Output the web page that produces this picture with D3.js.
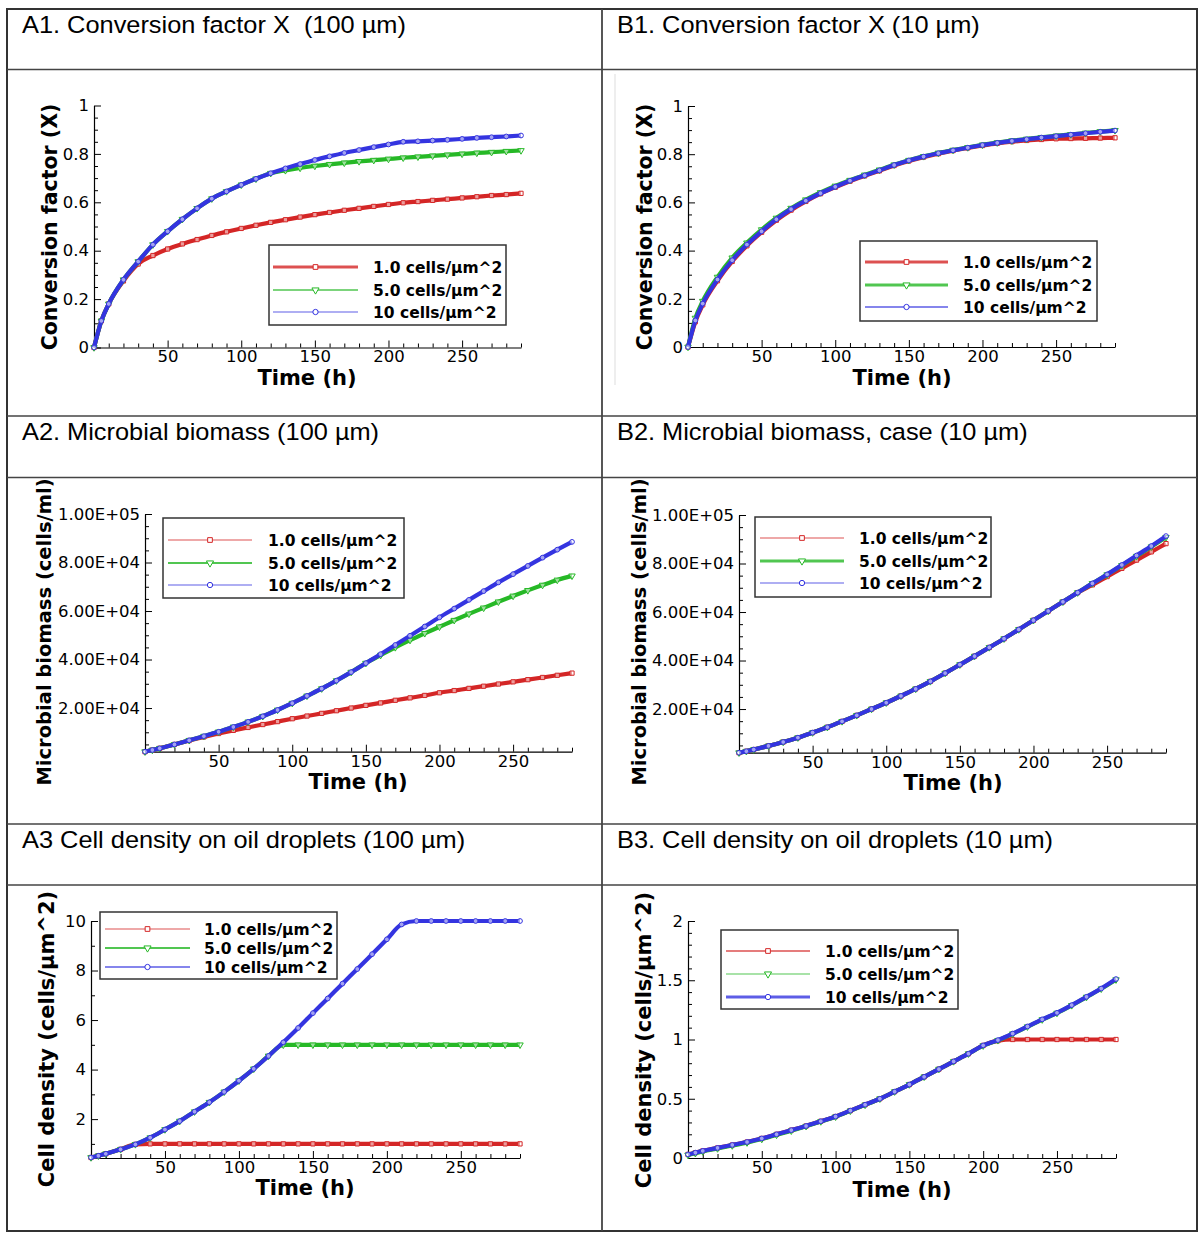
<!DOCTYPE html>
<html><head><meta charset="utf-8">
<script src="https://cdn.jsdelivr.net/npm/d3@7"></script>
<style>
body{margin:0;background:#fff}
svg{display:block}
.tick text{font-family:"DejaVu Sans",sans-serif;font-size:16.5px;fill:#000}
</style>
</head><body>
<svg id="c" width="1200" height="1235"></svg>
<script>
// ---------------- DATA ----------------
const T = [0,5,10,20,30,40,50,60,70,80,90,100,110,120,130,140,150,160,170,180,190,200,210,220,230,240,250,260,270,280,290];
const seriesNames = ["1.0 cells/µm^2", "5.0 cells/µm^2", "10 cells/µm^2"];
const titles = ["A1. Conversion factor X  (100 µm)", "B1. Conversion factor X (10 µm)",
  "A2. Microbial biomass (100 µm)", "B2. Microbial biomass, case (10 µm)",
  "A3 Cell density on oil droplets (100 µm)", "B3. Cell density on oil droplets (10 µm)"];
const yTitles = ["Conversion factor (X)", "Microbial biomass (cells/ml)", "Cell density (cells/µm^2)"];
const xTitle = "Time (h)";
const xTicks = [50,100,150,200,250];
const yTicksConv = [0,0.2,0.4,0.6,0.8,1];
const yTickLabelsConv = ["0","0.2","0.4","0.6","0.8","1"];
const yTicksBio = [20000,40000,60000,80000,100000];
const yTickLabelsBio = ["2.00E+04","4.00E+04","6.00E+04","8.00E+04","1.00E+05"];
const yTicksDensA = [2,4,6,8,10];
const yTickLabelsDensA = ["2","4","6","8","10"];
const yTicksDensB = [0,0.5,1,1.5,2];
const yTickLabelsDensB = ["0","0.5","1","1.5","2"];

const A1_red   = [0,0.11,0.18,0.275,0.345,0.38,0.407,0.428,0.446,0.463,0.478,0.492,0.505,0.517,0.528,0.539,0.549,0.558,0.567,0.575,0.583,0.591,0.598,0.603,0.608,0.613,0.618,0.623,0.628,0.632,0.637];
const A1_green = [0,0.11,0.18,0.28,0.355,0.425,0.48,0.53,0.575,0.615,0.645,0.672,0.697,0.72,0.732,0.742,0.75,0.757,0.763,0.769,0.774,0.779,0.784,0.788,0.792,0.796,0.80,0.804,0.807,0.811,0.814];
const A1_blue  = [0,0.11,0.18,0.28,0.355,0.425,0.48,0.53,0.575,0.615,0.645,0.672,0.697,0.72,0.74,0.758,0.775,0.79,0.804,0.816,0.828,0.839,0.85,0.852,0.855,0.858,0.862,0.866,0.869,0.872,0.876];

const B1_red   = [0,0.105,0.175,0.275,0.355,0.42,0.476,0.526,0.568,0.604,0.636,0.663,0.688,0.71,0.731,0.753,0.772,0.788,0.802,0.815,0.826,0.836,0.845,0.852,0.857,0.861,0.864,0.865,0.866,0.867,0.868];
const B1_green = [0,0.12,0.19,0.29,0.37,0.432,0.487,0.535,0.576,0.611,0.641,0.668,0.692,0.714,0.735,0.756,0.775,0.791,0.805,0.817,0.828,0.839,0.848,0.856,0.863,0.870,0.876,0.882,0.888,0.894,0.899];
const B1_blue  = [0,0.11,0.18,0.28,0.36,0.425,0.48,0.53,0.572,0.607,0.638,0.665,0.69,0.712,0.733,0.755,0.774,0.79,0.804,0.816,0.827,0.838,0.847,0.855,0.862,0.869,0.875,0.881,0.887,0.893,0.898];

const A2_red   = [2000,2700,3400,5000,6600,8100,9500,10800,12000,13200,14400,15600,16700,17800,18900,20000,21100,22100,23200,24200,25200,26300,27200,28100,29000,29900,30800,31700,32600,33500,34400];
const A2_green = [2000,2700,3400,5000,6700,8400,10200,12200,14300,16600,19200,22000,25000,28000,31300,34800,38500,41800,45000,48000,50800,53500,56200,58800,61300,63800,66200,68500,70700,72800,74500];
const A2_blue  = [2000,2700,3400,5000,6700,8400,10200,12200,14300,16600,19200,22000,25000,28000,31300,34800,38500,42200,46000,49800,53600,57400,61000,64600,68200,71800,75200,78600,82000,85300,88500];

const B2_red   = [2000,2600,3300,4800,6400,8200,10300,12500,14900,17400,20000,22600,25400,28300,31400,34800,38300,41800,45400,49000,52800,56600,60400,64200,68000,71200,74600,78000,81400,84800,88200];
const B2_green = [2000,2600,3300,4800,6400,8200,10300,12500,14900,17400,20000,22600,25400,28300,31400,34800,38300,41800,45400,49000,52800,56600,60400,64200,68000,71800,75400,79200,83000,86900,90800];
const B2_blue  = [2000,2600,3300,4800,6400,8200,10300,12500,14900,17400,20000,22600,25400,28300,31400,34800,38300,41800,45400,49000,52800,56600,60400,64200,68000,71800,75500,79400,83300,87200,91300];

const A3_red   = [0.45,0.52,0.6,0.78,0.98,1,1,1,1,1,1,1,1,1,1,1,1,1,1,1,1,1,1,1,1,1,1,1,1,1,1];
const A3_green = [0.45,0.52,0.6,0.78,0.98,1.25,1.58,1.92,2.3,2.68,3.1,3.55,4.03,4.55,5,5,5,5,5,5,5,5,5,5,5,5,5,5,5,5,5];
const A3_blue  = [0.45,0.52,0.6,0.78,0.98,1.25,1.58,1.92,2.3,2.68,3.1,3.55,4.03,4.55,5.1,5.68,6.28,6.87,7.47,8.06,8.66,9.26,9.86,10,10,10,10,10,10,10,10];

const B3_red   = [0.03,0.045,0.06,0.085,0.11,0.135,0.165,0.2,0.235,0.27,0.31,0.35,0.4,0.45,0.5,0.56,0.62,0.685,0.75,0.815,0.88,0.95,0.99,1,1,1,1,1,1,1,1];
const B3_green = [0.025,0.04,0.055,0.08,0.105,0.13,0.16,0.195,0.23,0.268,0.308,0.348,0.398,0.448,0.5,0.56,0.62,0.685,0.75,0.815,0.88,0.948,0.993,1.048,1.108,1.168,1.223,1.288,1.358,1.428,1.505];
const B3_blue  = [0.03,0.045,0.06,0.085,0.11,0.135,0.165,0.2,0.235,0.27,0.31,0.35,0.4,0.45,0.5,0.56,0.62,0.685,0.75,0.815,0.88,0.95,0.995,1.05,1.11,1.17,1.225,1.29,1.36,1.43,1.51];

// ---------------- STYLE / LAYOUT ----------------
const colors = ["#d42626", "#26b826", "#3434e0"];
const symbols = [d3.symbolSquare, d3.symbolTriangle, d3.symbolCircle];
const symRot = [0, 180, 0];

const panels = [
  {title:0, tx:22, ty:33, data:[A1_red,A1_green,A1_blue], xr:[94,521], ydom:[0,1], yr:[347.5,105.5],
   yt:yTicksConv, ytl:yTickLabelsConv, ymin:0.05, ylab:0, ylx:50, yly:227, ylfs:20.5, xlx:307, xly:385,
   lg:{x:269,y:245,w:237,h:80,l0:273,l1:358,tx:373,rows:[22,45,67],lw:[3,1.5,1]}},
  {title:1, tx:617, ty:33, data:[B1_red,B1_green,B1_blue], xr:[688,1115], ydom:[0,1], yr:[347,106],
   yt:yTicksConv, ytl:yTickLabelsConv, ymin:0.05, ylab:0, ylx:645, yly:227, ylfs:20.5, xlx:902, xly:385,
   lg:{x:860,y:241,w:237,h:80,l0:865,l1:948,tx:963,rows:[21,44,66],lw:[3,3,1.5]}},
  {title:2, tx:22, ty:440, data:[A2_red,A2_green,A2_blue], xr:[145,572], ydom:[2000,100000], yr:[751.7,514],
   yt:yTicksBio, ytl:yTickLabelsBio, ymin:5000, ylab:1, ylx:44, yly:632, ylfs:19.5, xlx:358, xly:789,
   lg:{x:163,y:518,w:241,h:80,l0:168,l1:252,tx:268,rows:[22,45,67],lw:[1,2,1]}},
  {title:3, tx:617, ty:440, data:[B2_red,B2_green,B2_blue], xr:[739,1166], ydom:[2000,100000], yr:[752.7,515],
   yt:yTicksBio, ytl:yTickLabelsBio, ymin:5000, ylab:1, ylx:639, yly:632, ylfs:19.5, xlx:953, xly:790,
   lg:{x:755,y:517,w:236,h:80,l0:760,l1:844,tx:859,rows:[21,44,66],lw:[1,3,1]}},
  {title:4, tx:22, ty:848, data:[A3_red,A3_green,A3_blue], xr:[91,520], ydom:[0.43,10], yr:[1158,921],
   yt:yTicksDensA, ytl:yTickLabelsDensA, ymin:1, ylab:2, ylx:46, yly:1039, ylfs:21, xlx:305, xly:1195,
   lg:{x:100,y:912,w:237,h:67,l0:105,l1:190,tx:204,rows:[17,36,55],lw:[1,2,1.5]}},
  {title:5, tx:617, ty:848, data:[B3_red,B3_green,B3_blue], xr:[688,1116], ydom:[0,2], yr:[1158,921],
   yt:yTicksDensB, ytl:yTickLabelsDensB, ymin:0.1, ylab:2, ylx:643, yly:1040, ylfs:21, xlx:902, xly:1197,
   lg:{x:721,y:930,w:237,h:79,l0:726,l1:810,tx:825,rows:[21,44,67],lw:[1.5,1,3]}}
];

// ---------------- DRAW ----------------
const svg = d3.select("#c");

// table grid
const tb = {x0:7, x1:1197, xm:602, y0:9, y1:1231, hs:[69.5,416,477.5,824,885]};
svg.append("rect").attr("x",tb.x0).attr("y",tb.y0).attr("width",tb.x1-tb.x0).attr("height",tb.y1-tb.y0)
  .attr("fill","none").attr("stroke","#333").attr("stroke-width",2);
svg.selectAll("line.h").data(tb.hs).join("line").attr("class","h")
  .attr("x1",tb.x0).attr("x2",tb.x1).attr("y1",d=>d).attr("y2",d=>d)
  .attr("stroke","#444").attr("stroke-width",1.6);
svg.append("line").attr("x1",tb.xm).attr("x2",tb.xm).attr("y1",tb.y0).attr("y2",tb.y1)
  .attr("stroke","#444").attr("stroke-width",1.8);
// faint scan artefact in B1 cell
svg.append("line").attr("x1",615).attr("x2",615).attr("y1",74).attr("y2",385)
  .attr("stroke","#ddd").attr("stroke-width",1);

panels.forEach(p => {
  const g = svg.append("g");
  // header
  g.append("text").attr("transform",`translate(${p.tx},${p.ty}) scale(1.08,1)`)
    .attr("font-family","'Liberation Sans',Arial,sans-serif").attr("font-size",23.5)
    .style("white-space","pre").text(titles[p.title]);

  const x = d3.scaleLinear().domain([0,290]).range(p.xr);
  const y = d3.scaleLinear().domain(p.ydom).range(p.yr);
  const yBase = p.yr[0];

  // minor ticks
  const xMinor = d3.range(10, 291, 10).filter(v => !xTicks.includes(v));
  g.append("g").attr("transform",`translate(0,${yBase})`)
    .call(d3.axisBottom(x).tickValues(xMinor).tickSize(-4).tickSizeOuter(0).tickFormat(""))
    .call(s => s.select(".domain").remove());
  const yMinor = d3.range(Math.ceil(p.ydom[0]/p.ymin - 1e-9)*p.ymin, p.ydom[1]+p.ymin/2, p.ymin)
    .filter(v => !p.yt.some(t => Math.abs(t-v) < p.ymin/10));
  g.append("g").attr("transform",`translate(${p.xr[0]},0)`)
    .call(d3.axisLeft(y).tickValues(yMinor).tickSize(-4).tickSizeOuter(0).tickFormat(""))
    .call(s => s.select(".domain").remove());

  // major axes
  g.append("g").attr("transform",`translate(0,${yBase})`)
    .call(d3.axisBottom(x).tickValues(xTicks).tickSize(-7).tickSizeOuter(0).tickPadding(3).tickFormat(d3.format("d")))
    .call(s => s.selectAll("text").attr("dy","0.72em"));
  g.append("g").attr("transform",`translate(${p.xr[0]},0)`)
    .call(d3.axisLeft(y).tickValues(p.yt).tickSize(-7).tickSizeOuter(0).tickPadding(5)
      .tickFormat((d,i) => p.ytl[i]));
  g.selectAll(".domain").attr("stroke","#000").attr("stroke-width",1.2);
  g.selectAll(".tick line").attr("stroke","#000");

  // axis titles
  g.append("text").attr("transform",`translate(${p.ylx},${p.yly}) rotate(-90)`)
    .attr("text-anchor","middle").attr("dy","0.36em")
    .attr("font-family","'DejaVu Sans',sans-serif").attr("font-weight","bold").attr("font-size",p.ylfs)
    .text(yTitles[p.ylab]);
  g.append("text").attr("x",p.xlx).attr("y",p.xly).attr("text-anchor","middle")
    .attr("font-family","'DejaVu Sans',sans-serif").attr("font-weight","bold").attr("font-size",21)
    .text(xTitle);

  // series
  const line = d3.line().x((d,i)=>x(T[i])).y(d=>y(d)).curve(d3.curveMonotoneX);
  p.data.forEach((vals, si) => {
    g.append("path").attr("d", line(vals)).attr("fill","none")
      .attr("stroke", colors[si]).attr("stroke-width", 4.2).attr("stroke-linejoin","round");
    g.selectAll(null).data(vals).join("path")
      .attr("d", d3.symbol().type(symbols[si]).size(18))
      .attr("transform",(d,i)=>`translate(${x(T[i])},${y(d)}) rotate(${symRot[si]})`)
      .attr("fill","#fff").attr("fill-opacity",0.55).attr("stroke",colors[si]).attr("stroke-width",1);
  });

  // legend
  const lg = p.lg;
  const L = g.append("g");
  L.append("rect").attr("x",lg.x).attr("y",lg.y).attr("width",lg.w).attr("height",lg.h)
    .attr("fill","#fff").attr("stroke","#333").attr("stroke-width",1.5);
  seriesNames.forEach((nm, si) => {
    const ry = lg.y + lg.rows[si];
    L.append("line").attr("x1",lg.l0).attr("x2",lg.l1).attr("y1",ry).attr("y2",ry)
      .attr("stroke",colors[si]).attr("stroke-width",lg.lw[si]).attr("stroke-opacity",0.8);
    L.append("path").attr("d", d3.symbol().type(symbols[si]).size(22))
      .attr("transform",`translate(${(lg.l0+lg.l1)/2},${ry}) rotate(${symRot[si]})`)
      .attr("fill","#fff").attr("stroke",colors[si]).attr("stroke-width",1);
    L.append("text").attr("x",lg.tx).attr("y",ry).attr("dy","0.36em")
      .attr("font-family","'DejaVu Sans',sans-serif").attr("font-weight","bold").attr("font-size",15.5)
      .text(nm);
  });
});
</script>
</body></html>
